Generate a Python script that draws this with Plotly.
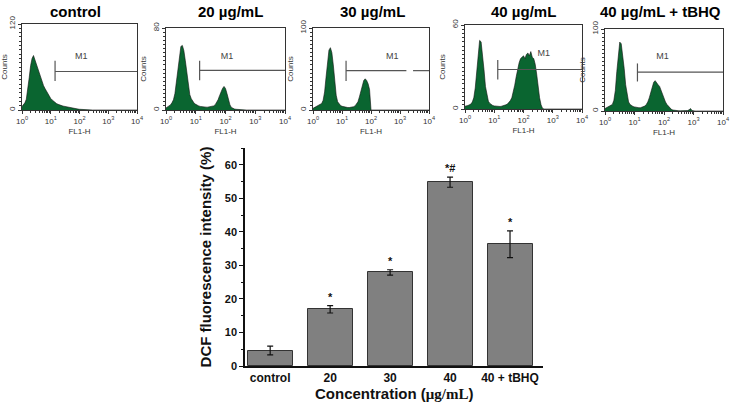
import plotly.graph_objects as go

W, H = 731, 403

# ---------------- data ----------------
# histogram bins: log10(FL1-H) positions, 0.05 decade steps
bin_log = [round(0.05 * i, 2) for i in range(81)]

def pad(v):
    return v + [0] * (81 - len(v))

counts_control = pad([5, 7, 10, 15, 28, 45, 62, 72, 76, 70, 62, 55, 49, 43, 38, 34, 30, 26, 22, 19,
                      16, 14, 12, 10.5, 9, 8, 7, 6.3, 5.8, 5.3, 4.8, 4.3, 3.8, 3.3, 2.9, 2.5, 2.2, 1.9,
                      1.6, 1.3, 1.0, 0.8, 0.6, 0.5, 0.4, 0.35, 0.3])
counts_20 = pad([2, 3, 4, 5, 7, 10, 16, 28, 42, 55, 62, 63, 58, 48, 35, 24, 15, 11, 8, 6.5,
                 5.5, 4.5, 4, 3.5, 3.2, 3, 2.8, 2.8, 2.8, 3, 3.2, 3.5, 4, 5, 7, 10, 14, 18, 21, 23,
                 21, 16, 9, 5, 2.5, 1.5, 1, 0.7, 0.5, 0.4, 0.3])
counts_30 = pad([2, 3, 3.5, 4, 5, 6, 8, 12, 22, 40, 60, 73, 76, 70, 55, 35, 18, 10, 7, 5.5,
                 4.5, 4, 3.5, 3.2, 3, 3, 3.2, 3.5, 4, 5, 7, 10, 16, 24, 31, 36, 38, 36, 32, 25, 0])
counts_40 = pad([2, 2, 2.5, 3, 3.5, 5, 8, 15, 28, 42, 49, 48, 40, 28, 16, 9, 5.5, 4, 3, 2.5,
                 2.2, 2, 2, 1.8, 1.8, 2, 2.2, 2.5, 3, 3.5, 4.5, 6, 8, 12, 17, 23, 29, 33, 36, 37,
                 38, 36, 39, 40, 38, 41, 37, 36, 32, 25, 16, 8, 3, 0.5])
counts_tbhq = pad([3, 4, 4.5, 5, 6, 8, 13, 25, 48, 72, 84, 82, 70, 52, 32, 18, 11, 8, 6.5, 5.5,
                   5, 4.5, 4, 4, 4, 4.5, 5, 6, 8, 11, 16, 23, 30, 35, 37, 34, 32, 30, 25, 20,
                   15, 11, 8, 5.5, 3.5, 2, 1.2, 0.8, 0.5, 0.4, 0.3, 0.2, 0.2, 0.2, 0.2, 0.3, 0.5,
                   1.5, 3, 0.5])

panel_titles = ["control", "20 µg/mL", "30 µg/mL", "40 µg/mL", "40 µg/mL + tBHQ"]
panel_counts = [counts_control, counts_20, counts_30, counts_40, counts_tbhq]
panel_ymax = [120, 80, 100, 60, 100]
# M1 gate: start (log10), level, tick low/high (counts), label pos (log10, counts)
m1_start = [1.15, 1.13, 1.14, 1.12, 1.10]
m1_level = [53.7, 38.6, 48, 28.2, 47.3]
m1_tick_lo = [40.6, 29, 35.5, 21, 36]
m1_tick_hi = [68.7, 48, 60, 35, 58]
m1_label_x = [2.06, 2.05, 2.73, 2.69, 1.95]
m1_label_y = [74, 52, 64.5, 39.7, 65.7]
# gap in the M1 line (log10 from, to) or None
m1_gap = [None, None, (3.22, 3.45), None, None]

# bar chart
categories = ["control", "20", "30", "40", "40 + tBHQ"]
dcf_values = [4.6, 16.9, 27.9, 54.8, 36.3]
dcf_errors = [1.3, 1.1, 0.8, 1.5, 4.0]
sig_labels = ["", "*", "*", "*#", "*"]

# ---------------- layout helpers ----------------
# pixel boxes for histogram panels: (x0, x1, ytop, ybottom)
boxes = [(22, 137, 24, 110), (166, 285, 28, 110), (313, 429, 28, 110),
         (465, 582, 25, 109), (605, 723, 29, 111)]
title_x = [75, 230, 372, 523, 660]

def dx(p):
    return p / W

def dy(p):
    return 1 - p / H

fig = go.Figure()
green = "#0a6530"
font_b = "Liberation Sans"

minor_vals = [m * 10 ** k for k in range(4) for m in range(2, 10)]

for i in range(5):
    ax = i + 1
    xs = [10 ** v for v in bin_log]
    fig.add_trace(go.Scatter(x=xs, y=panel_counts[i], mode="lines", fill="tozeroy",
                             fillcolor=green, line=dict(color="#111", width=0.6),
                             xaxis=f"x{ax}", yaxis=f"y{ax}", showlegend=False, hoverinfo="skip"))
    s = 10 ** m1_start[i]
    lvl = m1_level[i]
    if m1_gap[i]:
        g0, g1 = m1_gap[i]
        hx = [s, 10 ** g0, None, 10 ** g1, 10000]
        hy = [lvl, lvl, None, lvl, lvl]
    else:
        hx = [s, 10000]
        hy = [lvl, lvl]
    fig.add_trace(go.Scatter(x=hx, y=hy, mode="lines", line=dict(color="#555", width=1.2),
                             xaxis=f"x{ax}", yaxis=f"y{ax}", showlegend=False, hoverinfo="skip"))
    fig.add_trace(go.Scatter(x=[s, s], y=[m1_tick_lo[i], m1_tick_hi[i]], mode="lines",
                             line=dict(color="#555", width=1.2),
                             xaxis=f"x{ax}", yaxis=f"y{ax}", showlegend=False, hoverinfo="skip"))
    fig.add_trace(go.Scatter(x=[10 ** m1_label_x[i]], y=[m1_label_y[i]], mode="text", text=["M1"],
                             textfont=dict(size=9, color="#444", family=font_b),
                             xaxis=f"x{ax}", yaxis=f"y{ax}", showlegend=False, hoverinfo="skip"))
    x0, x1, yt, yb = boxes[i]
    axis_common = dict(showline=True, linecolor="#333", linewidth=1, mirror=True,
                       showgrid=False, zeroline=False, ticks="outside", ticklen=3,
                       tickcolor="#333", automargin=False,
                       tickfont=dict(size=8, color="#333", family=font_b))
    fig.update_layout(**{
        f"xaxis{ax}": dict(type="log", range=[0, 4], domain=[dx(x0), dx(x1)], anchor=f"y{ax}",
                           tickvals=[1, 10, 100, 1000, 10000],
                           ticktext=["10<sup>0</sup>", "10<sup>1</sup>", "10<sup>2</sup>",
                                     "10<sup>3</sup>", "10<sup>4</sup>"],
                           minor=dict(tickvals=minor_vals, ticks="outside", ticklen=2,
                                      tickcolor="#333"),
                           title=dict(text="FL1-H", font=dict(size=8, color="#333", family=font_b),
                                      standoff=3),
                           **axis_common),
        f"yaxis{ax}": dict(range=[0, panel_ymax[i]], domain=[dy(yb), dy(yt)], anchor=f"x{ax}",
                           tickvals=[0, panel_ymax[i]], tickangle=-90,
                           minor=dict(dtick=panel_ymax[i] / 20, ticks="outside", ticklen=2,
                                      tickcolor="#333"),
                           title=dict(text="Counts", font=dict(size=8, color="#333", family=font_b),
                                      standoff=3),
                           **axis_common),
    })
    fig.add_annotation(text=f"<b>{panel_titles[i]}</b>", x=dx(title_x[i]), y=dy(11),
                       xref="paper", yref="paper", showarrow=False,
                       font=dict(size=15, color="#000", family=font_b), xanchor="center",
                       yanchor="middle")

# bar chart
idx = list(range(len(categories)))
fig.add_trace(go.Bar(x=idx, y=dcf_values, width=0.75,
                     marker=dict(color="#808080", line=dict(color="#333", width=1)),
                     error_y=dict(type="data", array=dcf_errors, color="#111", thickness=1.2,
                                  width=3),
                     xaxis="x6", yaxis="y6", showlegend=False, hoverinfo="skip"))
for i, v, e, s in zip(idx, dcf_values, dcf_errors, sig_labels):
    if s:
        fig.add_annotation(text=f"<b>{s}</b>", x=i, y=v + e, xref="x6", yref="y6",
                           showarrow=False, yanchor="bottom", yshift=1,
                           font=dict(size=11, color="#111", family=font_b))

fig.add_annotation(text="<b>Concentration (<span style='font-family:Liberation Serif'>μg/mL</span>)</b>",
                   x=dx(394), y=dy(393), xref="paper", yref="paper", showarrow=False,
                   xanchor="center", yanchor="middle",
                   font=dict(size=15, color="#111", family=font_b))

fig.update_layout(
    xaxis6=dict(domain=[dx(245), dx(543)], anchor="y6", range=[-0.42, 4.55], automargin=False,
                showline=True, linecolor="#111", linewidth=1.5, ticks="", showgrid=False,
                tickfont=dict(size=12, color="#111", family=font_b),
                tickvals=idx, ticktext=[f"<b>{c}</b>" for c in categories]),
    yaxis6=dict(domain=[dy(366), dy(148)], anchor="x6", range=[0, 65], automargin=False,
                showline=True, linecolor="#111", linewidth=1.5, ticks="outside", ticklen=4,
                tickwidth=1.2, tickcolor="#111", showgrid=False, zeroline=False,
                tickvals=[0, 10, 20, 30, 40, 50, 60],
                ticktext=[f"<b>{t}</b>" for t in [0, 10, 20, 30, 40, 50, 60]],
                minor=dict(dtick=5, ticks="outside", ticklen=2, tickcolor="#111"),
                tickfont=dict(size=11, color="#111", family=font_b),
                title=dict(text="<b>DCF fluorescence intensity (%)</b>",
                           font=dict(size=15, color="#111", family=font_b), standoff=10)),
    width=W, height=H, margin=dict(l=0, r=0, t=0, b=0),
    paper_bgcolor="white", plot_bgcolor="white", bargap=0,
)

fig.write_html("out.html", config={"displayModeBar": False},
               post_script="document.body.style.margin='0';document.body.style.overflow='hidden';")
